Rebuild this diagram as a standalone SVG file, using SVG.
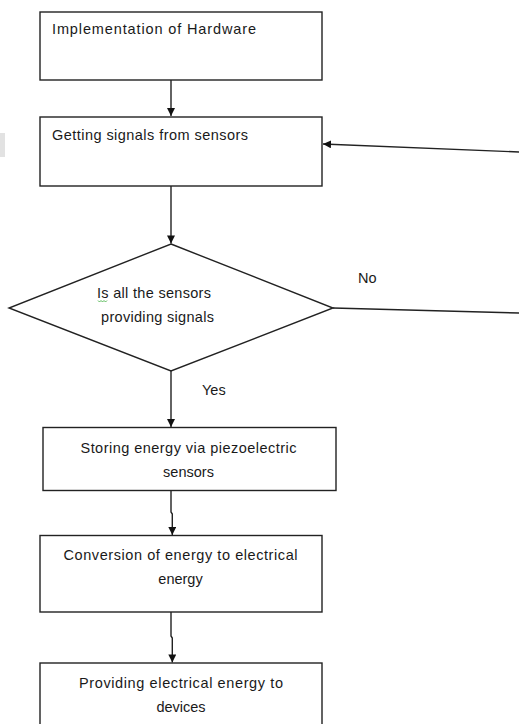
<svg xmlns="http://www.w3.org/2000/svg" width="519" height="724" viewBox="0 0 519 724">
<defs>
<style>
.box{fill:#fff;stroke:#222;stroke-width:1.4}
.t{font-family:"Liberation Sans",Arial,sans-serif;font-size:14.5px;fill:#1a1a1a}
.c{text-anchor:middle}
.ln{fill:none;stroke:#222;stroke-width:1.4}
</style>
<marker id="ah" viewBox="0 0 10 10" refX="10" refY="5" markerWidth="8.5" markerHeight="8" markerUnits="userSpaceOnUse" orient="auto">
<path d="M0,0 L10,5 L0,10 Z" fill="#111"/>
</marker>
</defs>
<rect width="519" height="724" fill="#fff"/>
<rect x="0" y="133" width="5" height="24" fill="#e2e2e2"/>
<g id="connectors">
<path class="ln" d="M171,80 V116" marker-end="url(#ah)"/>
<path class="ln" d="M519,152 L323,144" marker-end="url(#ah)"/>
<path class="ln" d="M171,186 V243.5" marker-end="url(#ah)"/>
<path class="ln" d="M333,308 L519,313"/>
<path class="ln" d="M171,371 V427" marker-end="url(#ah)"/>
<path class="ln" d="M171,490 V512 L172.3,514 V535" marker-end="url(#ah)"/>
<path class="ln" d="M171,612 V636 L172.3,638 V662.5" marker-end="url(#ah)"/>
<text class="t" x="358" y="283">No</text>
<text class="t" x="202" y="395">Yes</text>
</g>
<g id="n1">
<rect class="box" x="40" y="12" width="282" height="68"/>
<text class="t" x="52" y="34" textLength="204">Implementation of Hardware</text>
</g>
<g id="n2">
<rect class="box" x="40" y="117" width="282" height="69"/>
<text class="t" x="52" y="140" textLength="196">Getting signals from sensors</text>
</g>
<g id="n3">
<polygon class="box" points="171,244 333,308 171,371 9,308"/>
<text class="t" x="97" y="298" textLength="114">Is all the sensors</text>
<text class="t" x="101" y="322" textLength="113">providing signals</text>
<path d="M98,300.5 l1.5,1.5 l1.5,-1.5 l1.5,1.5 l1.5,-1.5 l1.5,1.5 l1.5,-1.5" fill="none" stroke="#3a3" stroke-width="0.8"/>
</g>
<g id="n4">
<rect class="box" x="43" y="427.5" width="293" height="63"/>
<text class="t c" x="188.5" y="453" textLength="216">Storing energy via piezoelectric</text>
<text class="t c" x="188.5" y="477">sensors</text>
</g>
<g id="n5">
<rect class="box" x="40" y="535.5" width="282" height="76.5"/>
<text class="t c" x="180.5" y="560" textLength="234">Conversion of energy to electrical</text>
<text class="t c" x="180.5" y="584">energy</text>
</g>
<g id="n6">
<rect class="box" x="40" y="663" width="282" height="70"/>
<text class="t c" x="181" y="688" textLength="204">Providing electrical energy to</text>
<text class="t c" x="181" y="712">devices</text>
</g>
</svg>
